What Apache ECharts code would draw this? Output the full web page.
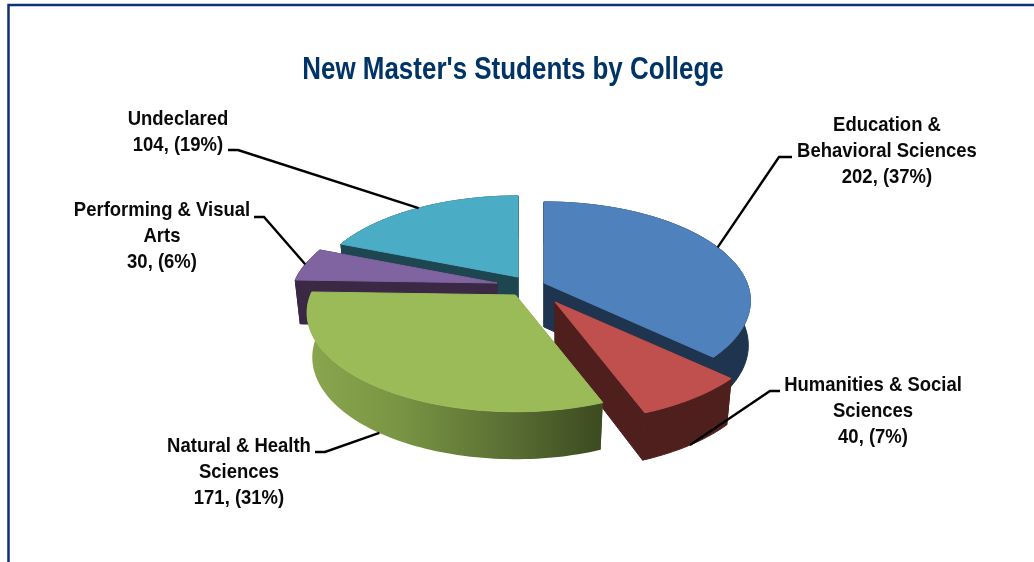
<!DOCTYPE html>
<html>
<head>
<meta charset="utf-8">
<style>html,body{margin:0;padding:0;background:#fff}#chart{width:1034px;height:562px}</style>
<script src="https://cdn.jsdelivr.net/npm/echarts@6/dist/echarts.min.js"></script>
</head>
<body>
<div id="chart"></div>
<script>
// ---- data ----
var titleText = "New Master's Students by College";
var categories = ['Education &\nBehavioral Sciences', 'Humanities & Social\nSciences', 'Natural & Health\nSciences', 'Performing & Visual\nArts', 'Undeclared'];
var values = [202, 40, 171, 30, 104];
var percents = [37, 7, 31, 6, 19];

// ---- style / layout (not data) ----
var topColors = ['#4f81bd', '#c0504d', '#9bbb59', '#8064a2', '#4bacc6'];
var wallColors = ['#1f344f', '#4f1f1e', '#4a5c2a', '#3a2845', '#1e4650'];
var apexX = [544, 555, 515.5, 497, 518];
var apexY = [283, 302, 295, 283, 277];
var scaleX = [1, 1.04, 1.01, 1, 1];
var scaleY = [1, 1.03, 1, 1, 1];
var baseShrink = [0.99, 0.975, 0.975, 0.975, 0.975];
var drawRank = [1, 3, 4, 2, 0];
var anchorOnBase = [false, true, true, false, false];
var labelCx = [887, 873, 239, 162, 178];
var labelTop = [124, 384, 445, 209, 118];
var elbowNear = [[792, 157], [780, 391], [315, 452], [254, 217], [228, 150]];
var elbowFar = [[779, 157], [770, 391], [325, 452], [264, 217], [238, 150]];

var RX = 203, RY = 95.7, K = 0.18;
var fontFamily = '"Liberation Sans", Arial, sans-serif';
var labelFont = 'bold 21px ' + fontFamily;
var labelSquash = 0.88;
var total = values.reduce(function (a, b) { return a + b; }, 0);

function project(theta, i, base) {
  var c = -Math.cos(theta), s = Math.sin(theta), d = 1 - K * c;
  var x = RX * scaleX[i] * s / d, y = RY * scaleY[i] * c / d;
  if (base) { x *= baseShrink[i]; y = y * 1.03 + 44; }
  return [apexX[i] + x, apexY[i] + y];
}
function arc(a0, a1, i, base) {
  var pts = [], n = Math.max(8, Math.ceil((a1 - a0) * 40));
  for (var j = 0; j <= n; j++) { pts.push(project(a0 + (a1 - a0) * j / n, i, base)); }
  return pts;
}
function startAngle(i) {
  var sum = 0;
  for (var j = 0; j < i; j++) { sum += values[j]; }
  return sum / total * Math.PI * 2;
}

function renderItem(params, api) {
  var i = params.dataIndex;
  var v = api.value(0);
  var a0 = startAngle(i), a1 = a0 + v / total * Math.PI * 2;
  var z = drawRank[i] * 10;
  var apexTop = [apexX[i], apexY[i]];
  var apexBase = [apexX[i], apexY[i] + 44];
  var topArc = arc(a0, a1, i, false), baseArc = arc(a0, a1, i, true);
  var wallFill = wallColors[i];
  var outerFill = wallFill;
  if (i === 2) {
    outerFill = new echarts.graphic.LinearGradient(1, 0, 0, 0, [
      { offset: 0, color: '#3c4a20' },
      { offset: 0.35, color: '#5c7235' },
      { offset: 0.7, color: '#7a9644' },
      { offset: 1, color: '#8aa64e' }
    ]);
  }
  var wallStroke = i === 2 ? null : wallFill;
  var children = [
    { type: 'polygon', z2: z, shape: { points: [apexTop, topArc[0], baseArc[0], apexBase] }, style: { fill: wallFill, stroke: wallStroke, lineWidth: 1 } },
    { type: 'polygon', z2: z, shape: { points: [apexTop, topArc[topArc.length - 1], baseArc[baseArc.length - 1], apexBase] }, style: { fill: wallFill, stroke: wallStroke, lineWidth: 1 } },
    { type: 'polygon', z2: z + 1, shape: { points: topArc.concat(baseArc.slice().reverse()) }, style: { fill: outerFill, stroke: wallStroke, lineWidth: 1 } },
    { type: 'polygon', z2: z + 2, shape: { points: [apexTop].concat(topArc) }, style: { fill: topColors[i], stroke: topColors[i], lineWidth: 1 } }
  ];
  // leader line anchored at the slice's mid-angle
  var anchor = project((a0 + a1) / 2, i, anchorOnBase[i]);
  children.push({
    type: 'polyline', z2: 100,
    shape: { points: [elbowNear[i], elbowFar[i], anchor] },
    style: { stroke: '#000', lineWidth: 2.4, fill: null }
  });
  var lines = categories[i].split('\n').concat([v + ', (' + percents[i] + '%)']);
  lines.forEach(function (t, n) {
    children.push({
      type: 'text', z2: 101,
      x: labelCx[i], y: labelTop[i] + n * 26 + 1, scaleX: labelSquash,
      style: { text: t, x: 0, y: 0, align: 'center', verticalAlign: 'middle', font: labelFont, fill: '#0a0a0a' }
    });
  });
  return { type: 'group', children: children };
}

var chart = echarts.init(document.getElementById('chart'), null, { renderer: 'canvas' });
chart.setOption({
  animation: false,
  backgroundColor: '#ffffff',
  graphic: [{
    type: 'polyline', silent: true,
    shape: { points: [[8.5, 562], [8.5, 5], [1034, 5]] },
    style: { stroke: '#0f2f78', lineWidth: 2.5, fill: null }
  }, {
    type: 'text', silent: true, x: 513, y: 70, scaleX: 0.811,
    style: { text: titleText, x: 0, y: 0, align: 'center', verticalAlign: 'middle', fill: '#003366', font: 'bold 32px ' + fontFamily }
  }],
  series: [{
    type: 'custom', coordinateSystem: 'none', renderItem: renderItem,
    data: values.map(function (v, i) { return { name: categories[i], value: [v] }; })
  }]
});
</script>
</body>
</html>
